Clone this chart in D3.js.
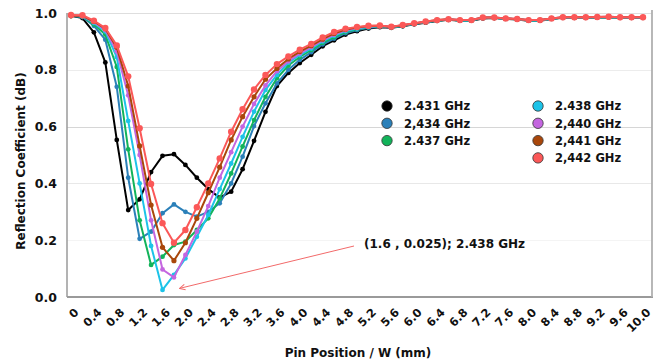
<!DOCTYPE html>
<html><head><meta charset="utf-8">
<script src="https://cdn.jsdelivr.net/npm/d3@7"></script>
<style>
body{margin:0;background:#fff}
svg{display:block}
text{font-family:"DejaVu Sans",sans-serif;font-weight:bold;fill:#111}
</style>
</head><body>
<svg id="chart" width="659" height="361"></svg>
<script>
// ---------- data ----------
const pinPositions = [0,0.2,0.4,0.6,0.8,1.0,1.2,1.4,1.6,1.8,2.0,2.2,2.4,2.6,2.8,3.0,3.2,3.4,3.6,3.8,4.0,4.2,4.4,4.6,4.8,5.0,5.2,5.4,5.6,5.8,6.0,6.2,6.4,6.6,6.8,7.0,7.2,7.4,7.6,7.8,8.0,8.2,8.4,8.6,8.8,9.0,9.2,9.4,9.6,9.8,10.0];
const xTickLabels = ["0","0.4","0.8","1.2","1.6","2.0","2.4","2.8","3.2","3.6","4.0","4.4","4.8","5.2","5.6","6.0","6.4","6.8","7.2","7.6","8.0","8.4","8.8","9.2","9.6","10.0"];
const yTickValues = [0,0.2,0.4,0.6,0.8,1.0];
const seriesNames = ["2.431 GHz","2,434 GHz","2.437 GHz","2.438 GHz","2,440 GHz","2,441 GHz","2,442 GHz"];

const s2431 = [0.99,0.982,0.932,0.826,0.553,0.306,0.344,0.44,0.497,0.503,0.465,0.42,0.38,0.35,0.371,0.45,0.55,0.652,0.743,0.789,0.824,0.853,0.883,0.904,0.924,0.936,0.945,0.95,0.948,0.953,0.96,0.966,0.972,0.976,0.973,0.973,0.981,0.982,0.979,0.977,0.973,0.973,0.979,0.983,0.983,0.983,0.984,0.985,0.983,0.983,0.983];
const s2434 = [0.99,0.986,0.955,0.906,0.74,0.42,0.205,0.23,0.295,0.326,0.30,0.283,0.30,0.33,0.40,0.494,0.602,0.682,0.752,0.80,0.835,0.862,0.89,0.91,0.929,0.94,0.948,0.952,0.949,0.954,0.961,0.967,0.973,0.977,0.974,0.974,0.982,0.983,0.98,0.978,0.974,0.974,0.98,0.984,0.984,0.984,0.985,0.986,0.984,0.984,0.984];
const s2437 = [0.99,0.988,0.96,0.924,0.81,0.52,0.27,0.113,0.142,0.183,0.195,0.236,0.277,0.347,0.435,0.53,0.623,0.705,0.77,0.815,0.845,0.87,0.895,0.915,0.933,0.943,0.95,0.953,0.95,0.955,0.962,0.968,0.973,0.977,0.974,0.974,0.983,0.983,0.98,0.978,0.974,0.974,0.98,0.984,0.984,0.984,0.985,0.986,0.984,0.984,0.984];
const s2438 = [0.99,0.988,0.965,0.935,0.845,0.62,0.40,0.18,0.025,0.078,0.136,0.212,0.289,0.38,0.47,0.564,0.653,0.729,0.782,0.825,0.852,0.875,0.9,0.92,0.936,0.945,0.951,0.954,0.95,0.956,0.962,0.968,0.974,0.977,0.974,0.974,0.983,0.983,0.98,0.978,0.974,0.974,0.98,0.984,0.984,0.984,0.985,0.986,0.984,0.984,0.984];
const s2440 = [0.99,0.989,0.968,0.94,0.865,0.71,0.50,0.27,0.097,0.069,0.148,0.23,0.32,0.42,0.51,0.60,0.68,0.745,0.795,0.83,0.858,0.88,0.904,0.924,0.939,0.947,0.952,0.955,0.951,0.957,0.963,0.969,0.974,0.978,0.975,0.975,0.984,0.984,0.981,0.979,0.975,0.975,0.981,0.985,0.985,0.985,0.986,0.987,0.985,0.985,0.985];
const s2441 = [0.99,0.99,0.97,0.945,0.879,0.743,0.532,0.324,0.175,0.128,0.191,0.277,0.367,0.457,0.553,0.635,0.705,0.767,0.805,0.838,0.864,0.885,0.908,0.928,0.942,0.949,0.954,0.955,0.951,0.957,0.963,0.969,0.975,0.978,0.975,0.975,0.984,0.984,0.981,0.979,0.975,0.975,0.981,0.985,0.985,0.985,0.986,0.987,0.985,0.985,0.985];
const s2442 = [0.993,0.992,0.973,0.947,0.886,0.777,0.594,0.398,0.26,0.191,0.236,0.316,0.40,0.488,0.582,0.661,0.731,0.782,0.82,0.847,0.871,0.891,0.914,0.933,0.945,0.951,0.955,0.956,0.952,0.958,0.964,0.97,0.975,0.978,0.975,0.975,0.984,0.984,0.981,0.979,0.975,0.975,0.981,0.985,0.985,0.985,0.986,0.987,0.985,0.985,0.985];

const annotationPoint = [1.6, 0.025];
const annotationText = "(1.6 , 0.025); 2.438 GHz";

// ---------- styles ----------
const seriesValues = [s2431,s2434,s2437,s2438,s2440,s2441,s2442];
const colors = ["#000000","#2b80b9","#12b35a","#1cc3e8","#c466e0","#a9470b","#fb5858"];
const radii = [2.4,2.4,2.4,2.4,2.4,2.6,3.2];

const svg = d3.select("#chart");
const pLeft = 67, pRight = 652, pTop = 13, pBottom = 297;
const x = d3.scaleLinear().domain([0,10]).range([71,643]);
const y = d3.scaleLinear().domain([0,1]).range([pBottom, pTop]);

// gridlines
const gridColor = {"0.2":"#f4f4f4","0.4":"#e8e8e8","0.6":"#d6d6d6","0.8":"#ececec","1":"#dedede"};
svg.append("g").selectAll("line").data(yTickValues.filter(v=>v>0)).join("line")
  .attr("x1",pLeft).attr("x2",pRight)
  .attr("y1",d=>Math.round(y(d))+0.5).attr("y2",d=>Math.round(y(d))+0.5)
  .attr("stroke",d=>gridColor[String(d)]).attr("stroke-width",1);

// frame
svg.append("line").attr("x1",pLeft).attr("x2",pLeft).attr("y1",pTop).attr("y2",pBottom)
  .attr("stroke","#9a9a9a").attr("stroke-width",1.5);
svg.append("line").attr("x1",pLeft).attr("x2",pRight+1).attr("y1",pBottom).attr("y2",pBottom)
  .attr("stroke","#9a9a9a").attr("stroke-width",1.8);
svg.append("line").attr("x1",pRight).attr("x2",pRight).attr("y1",10).attr("y2",pBottom)
  .attr("stroke","#b0b0b0").attr("stroke-width",1.8);

// y axis
const yAxis = svg.append("g").attr("transform",`translate(${pLeft},0)`)
  .call(d3.axisLeft(y).tickValues(yTickValues).tickFormat(d3.format(".1f")).tickSize(0).tickPadding(10));
yAxis.select(".domain").remove();
yAxis.selectAll("text").attr("font-size",12.5).attr("font-family","DejaVu Sans").attr("font-weight","bold").attr("fill","#111");

// x axis
const xAxis = svg.append("g").attr("transform",`translate(0,${pBottom})`)
  .call(d3.axisBottom(x).tickValues(xTickLabels.map(Number)).tickFormat((d,i)=>xTickLabels[i]).tickSize(0));
xAxis.select(".domain").remove();
xAxis.selectAll("text").attr("font-size",11.5).attr("font-family","DejaVu Sans").attr("font-weight","bold").attr("fill","#111")
  .attr("y",0).attr("dy",null).attr("text-anchor","end")
  .attr("transform","translate(8,16) rotate(-45)");

// titles
svg.append("text").attr("x",358).attr("y",357).attr("text-anchor","middle")
  .attr("font-size",12).text("Pin Position / W (mm)");
svg.append("text").attr("transform","translate(25,161) rotate(-90)").attr("text-anchor","middle")
  .attr("font-size",12).text("Reflection Coefficient (dB)");

// series
const line = d3.line().x((d,i)=>x(pinPositions[i])).y(d=>y(d));
seriesValues.forEach((vals,k)=>{
  const g = svg.append("g");
  g.append("path").datum(vals).attr("d",line).attr("fill","none")
    .attr("stroke",colors[k]).attr("stroke-width",2).attr("stroke-linejoin","round");
  g.selectAll("circle").data(vals).join("circle")
    .attr("cx",(d,i)=>x(pinPositions[i])).attr("cy",d=>y(d)).attr("r",radii[k]).attr("fill",colors[k]);
});

// legend
const legendPos = [[387,106],[387,123.3],[387,140.6],[538,106],[538,123.3],[538,140.6],[538,157.9]];
const lg = svg.append("g");
seriesNames.forEach((name,k)=>{
  const [lx,ly] = legendPos[k];
  lg.append("circle").attr("cx",lx).attr("cy",ly).attr("r",5.2)
    .attr("fill",colors[k]).attr("stroke","#333").attr("stroke-width",0.8);
  lg.append("text").attr("x",lx+17).attr("y",ly+4.3).attr("font-size",11.5).text(name);
});

// annotation
svg.append("defs").append("marker").attr("id","arr").attr("viewBox","0 0 10 10")
  .attr("refX",9).attr("refY",5).attr("markerWidth",7).attr("markerHeight",7).attr("orient","auto")
  .append("path").attr("d","M1,1 L9,5 L1,9").attr("fill","none").attr("stroke","#f26a6a").attr("stroke-width",1.4);
svg.append("line").attr("x1",354).attr("y1",246)
  .attr("x2",x(annotationPoint[0])+17).attr("y2",y(annotationPoint[1])-1.5)
  .attr("stroke","#f26a6a").attr("stroke-width",1).attr("marker-end","url(#arr)");
svg.append("text").attr("x",364).attr("y",248).attr("font-size",12).text(annotationText);
</script>
</body></html>
